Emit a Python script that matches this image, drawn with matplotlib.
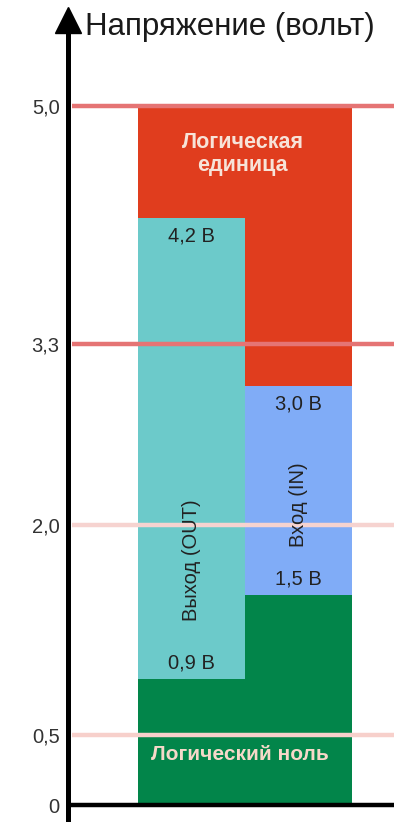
import numpy as np
import matplotlib.pyplot as plt

plt.rcParams["font.family"] = ["Liberation Sans", "DejaVu Sans"]

# levels (volts)
vcc = 5.0
columns = ["OUT", "IN"]
one_low = [4.2, 3.0]      # bottom of "logic one" zone
zero_high = [0.9, 1.5]    # top of "logic zero" zone
mid_colors = ["#6ccaca", "#80acf7"]
mid_labels = ["Выход (OUT)", "Вход (IN)"]
ref_levels = [5.0, 3.3, 2.0, 0.5]
ref_colors = ["#e57474", "#e57474", "#f6d3d0", "#f7d0cb"]
tick_vals = [0, 0.5, 2.0, 3.3, 5.0]
tick_labels = ["0", "0,5", "2,0", "3,3", "5,0"]

W, H = 394, 822
fig = plt.figure(figsize=(W / 100, H / 100), dpi=100)
ax = fig.add_axes([68 / W, 0, (W - 68) / W, 1])

pxv = 139.8   # px per volt
pxc = 107.0   # px per column
ax.set_xlim((68 - 138) / pxc, (W - 138) / pxc)
ax.set_ylim(-(H - 805) / pxv, 805 / pxv)

x = np.arange(len(columns))
top = [vcc - v for v in one_low]
mid = [o - z for o, z in zip(one_low, zero_high)]
ax.bar(x, top, bottom=one_low, width=1, align="edge", color="#e03d1e", zorder=2)
ax.bar(x, mid, bottom=zero_high, width=1, align="edge", color=mid_colors, zorder=2)
ax.bar(x, zero_high, width=1, align="edge", color="#02854a", zorder=2)

# reference voltage lines
x0 = (72 - 138) / pxc
ax.hlines(ref_levels, x0, ax.get_xlim()[1], colors=ref_colors, lw=3.2, zorder=3)

# axes
for s in ["top", "right"]:
    ax.spines[s].set_visible(False)
ax.spines["left"].set_linewidth(3.6)
ax.spines["left"].set_bounds(ax.get_ylim()[0], (805 - 24) / pxv)
ax.spines["bottom"].set_position(("data", 0))
ax.spines["bottom"].set_linewidth(3.2)
ax.spines["bottom"].set_bounds(x0, ax.get_xlim()[1])
ax.spines["bottom"].set_zorder(4)
ax.plot([ax.get_xlim()[0]], [(805 - 20) / pxv], marker="^", ms=19, color="black",
        clip_on=False, zorder=5)
ax.set_xticks([])
ax.set_yticks(tick_vals, tick_labels)
ax.tick_params(axis="y", length=0, pad=6, labelsize=14.5, labelcolor="#333333")

fig.text(85 / W, 1 - 27 / H, "Напряжение (вольт)", fontsize=22.5, color="#1a1a1a",
         ha="left", va="center")

# labels
ax.text(0.98, 4.655, "Логическая\nединица", ha="center", va="center", fontsize=15.5,
        fontweight="bold", color="#f7e3d8", linespacing=1.15, zorder=6)
ax.text(0.95, 0.36, "Логический ноль", ha="center", va="center", fontsize=15,
        fontweight="bold", color="#f6d9c9", zorder=6)
for i in range(len(columns)):
    ax.annotate(f"{one_low[i]:.1f} В".replace(".", ","), (x[i] + 0.5, one_low[i]),
                xytext=(0, -13), textcoords="offset points", ha="center", va="center",
                fontsize=14.5, color="#222222", zorder=6)
    ax.annotate(f"{zero_high[i]:.1f} В".replace(".", ","), (x[i] + 0.5, zero_high[i]),
                xytext=(0, 12), textcoords="offset points", ha="center", va="center",
                fontsize=14.5, color="#222222", zorder=6)
ax.text(0.5, 1.75, mid_labels[0], rotation=90, ha="center", va="center",
        fontsize=14.5, color="#222222", zorder=6)
ax.text(1.5, 2.15, mid_labels[1], rotation=90, ha="center", va="center",
        fontsize=14.5, color="#222222", zorder=6)

fig.savefig("out.png", dpi=100)
